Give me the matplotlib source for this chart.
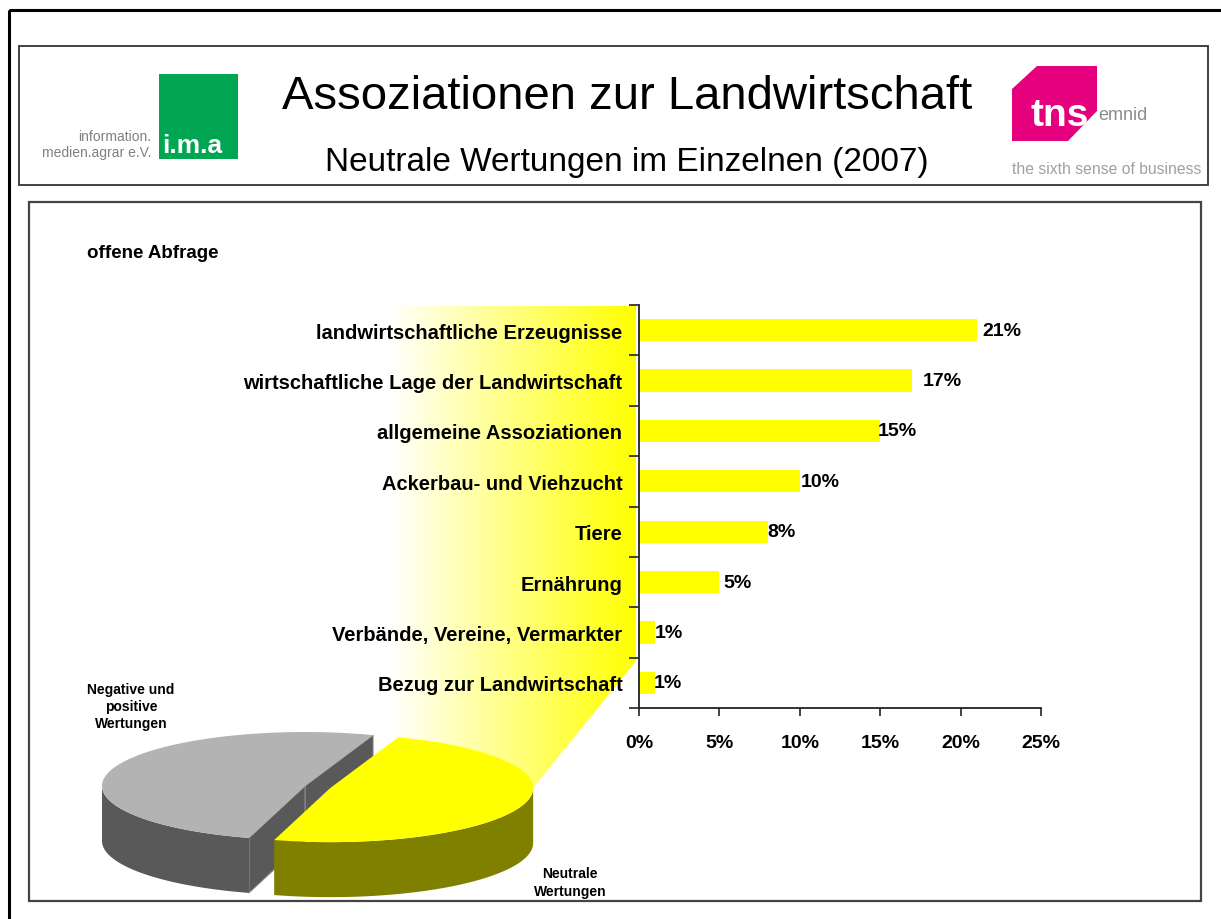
import numpy as np
import matplotlib.pyplot as plt
from matplotlib.patches import Rectangle, Polygon

plt.rcParams['font.family'] = ['Liberation Sans', 'DejaVu Sans']

# chart data
categories = ["landwirtschaftliche Erzeugnisse",
              "wirtschaftliche Lage der Landwirtschaft",
              "allgemeine Assoziationen",
              "Ackerbau- und Viehzucht",
              "Tiere",
              "Ernährung",
              "Verbände, Vereine, Vermarkter",
              "Bezug zur Landwirtschaft"]
shares = [21, 17, 15, 10, 8, 5, 1, 1]
x_ticks = [0, 5, 10, 15, 20, 25]

# overview pie: other ratings vs. neutral ratings
pie_labels = ["Negative und\npositive\nWertungen", "Neutrale\nWertungen"]
pie_shares = [51, 49]

title = "Assoziationen zur Landwirtschaft"
subtitle = "Neutrale Wertungen im Einzelnen (2007)"
note = "offene Abfrage"

# label nudges in px (excel placed them a bit irregularly)
label_nudge = [6, 10, -2, 1, 0, 4, 0, -1]

W, H = 1221, 920
fig = plt.figure(figsize=(W / 100, H / 100), dpi=100)

# background axes in pixel coords, y pointing down
bg = fig.add_axes([0, 0, 1, 1], zorder=0)
bg.set_xlim(0, W)
bg.set_ylim(H, 0)
bg.axis('off')

# frames
bg.add_patch(Rectangle((9, 11), 1400, 1000, fill=False, ec='black', lw=2.2))
bg.add_patch(Rectangle((19, 47), 1189, 139, fill=False, ec='#333333', lw=1.3))
bg.add_patch(Rectangle((29, 203), 1172, 699, fill=False, ec='#444444', lw=1.6))

# header
bg.text(627, 97, title, ha='center', va='center', fontsize=34)
bg.text(627, 163, subtitle, ha='center', va='center', fontsize=24)

# ima logo
bg.add_patch(Rectangle((159, 75), 79, 85, color='#00A651', lw=0))
bg.text(162, 146, "i.m.a", ha='left', va='center', fontsize=19,
        fontweight='bold', color='white')
bg.text(151, 137, "information.", ha='right', va='center', fontsize=10, color='#808080')
bg.text(151, 153, "medien.agrar e.V.", ha='right', va='center', fontsize=10, color='#808080')

# tns emnid logo
bg.add_patch(Polygon([(1012, 90), (1037, 67), (1097, 67), (1097, 112),
                      (1068, 142), (1012, 142)], closed=True, color='#E5007D', lw=0))
bg.text(1060, 116, "tns", ha='center', va='center', fontsize=28,
        fontweight='bold', color='white')
bg.text(1098, 116, "emnid", ha='left', va='center', fontsize=13, color='#8c8c8c')
bg.text(1012, 170, "the sixth sense of business", ha='left', va='center',
        fontsize=11.3, color='#a0a0a0')

bg.text(87, 254, note, ha='left', va='center', fontsize=13.5, fontweight='bold')

# funnel from the neutral slice to the bar chart
funnel = Polygon([(398, 738), (300, 307), (636, 307), (636, 662), (533, 789)],
                 closed=True, fc='none', ec='none')
bg.add_patch(funnel)
grad = np.linspace(0, 1, 256)[None, :]
img = np.dstack([np.ones_like(grad), np.ones_like(grad), 1 - grad])
im = bg.imshow(img, extent=(390, 636, 789, 307), aspect='auto', zorder=1)
im.set_clip_path(funnel)
bg.set_xlim(0, W)
bg.set_ylim(H, 0)


# 3d pie, drawn by hand
def pie3d(ax, values, tops, sides, cx, cy, a, b, depth, start, explode):
    total = float(sum(values))
    t0 = start
    for val, top_c, side_c, ex in zip(values, tops, sides, explode):
        t1, t2 = t0, t0 + 360 * val / total
        mid = np.radians((t1 + t2) / 2)
        x0 = cx + ex * a * np.cos(mid)
        y0 = cy - ex * b * np.sin(mid)

        def rim(t):
            r = np.radians(t)
            return x0 + a * np.cos(r), y0 - b * np.sin(r)

        # cut faces that look to the front
        cuts = []
        if np.cos(np.radians(t1)) > 0:
            cuts.append(t1)
        if np.cos(np.radians(t2)) < 0:
            cuts.append(t2)
        for t in cuts:
            px, py = rim(t)
            ax.add_patch(Polygon([(x0, y0), (px, py), (px, py + depth), (x0, y0 + depth)],
                                 closed=True, fc=side_c, ec='#909090', lw=0.7, zorder=2))
        # outer wall, front half only
        for k in range(-1, 3):
            lo, hi = max(t1, 180 + 360 * k), min(t2, 360 + 360 * k)
            if hi > lo:
                xs, ys = rim(np.linspace(lo, hi, 100))
                ax.fill(np.r_[xs, xs[::-1]], np.r_[ys, ys[::-1] + depth],
                        color=side_c, lw=0, zorder=2)
        xs, ys = rim(np.linspace(t1, t2, 200))
        ax.fill(np.r_[x0, xs], np.r_[y0, ys], color=top_c, lw=0, zorder=2)
        t0 = t2


pie3d(bg, pie_shares, ['#B3B3B3', '#FFFF00'], ['#595959', '#808000'],
      cx=305, cy=787, a=203, b=54, depth=55, start=70.4, explode=[0, 0.13])

bg.text(131, 707, pie_labels[0], ha='center', va='center', fontsize=10,
        fontweight='bold', linespacing=1.3)
bg.text(570, 883, pie_labels[1], ha='center', va='center', fontsize=10,
        fontweight='bold', linespacing=1.3)

# bar chart
ax = fig.add_axes([639 / W, 1 - 709 / H, 402 / W, 403 / H], zorder=3)
ax.patch.set_alpha(0)
y = np.arange(len(categories))
ax.barh(y, shares, height=0.44, color='#FFFF00', lw=0)
ax.set_ylim(len(categories) - 0.5, -0.5)
ax.set_xlim(0, 25)

ax.set_yticks(y)
ax.set_yticklabels(categories, fontsize=14.5, fontweight='bold')
ax.tick_params(axis='y', which='major', length=0, pad=12)
ax.set_yticks(np.arange(len(categories) + 1) - 0.5, minor=True)
ax.tick_params(axis='y', which='minor', length=7, width=1.2, color='#222222')

ax.set_xticks(x_ticks)
ax.set_xticklabels([f"{v}%" for v in x_ticks], fontsize=14, fontweight='bold')
ax.tick_params(axis='x', length=6, width=1.2, pad=13, color='#222222')

for s in ['top', 'right']:
    ax.spines[s].set_visible(False)
for s in ['left', 'bottom']:
    ax.spines[s].set_linewidth(1.3)
    ax.spines[s].set_color('#222222')

for i, v in enumerate(shares):
    ax.annotate(f"{v}%", (v, i), xytext=(label_nudge[i] * 0.72, 0),
                textcoords='offset points', ha='left', va='center',
                fontsize=14, fontweight='bold')

fig.savefig('out.png', dpi=100)
